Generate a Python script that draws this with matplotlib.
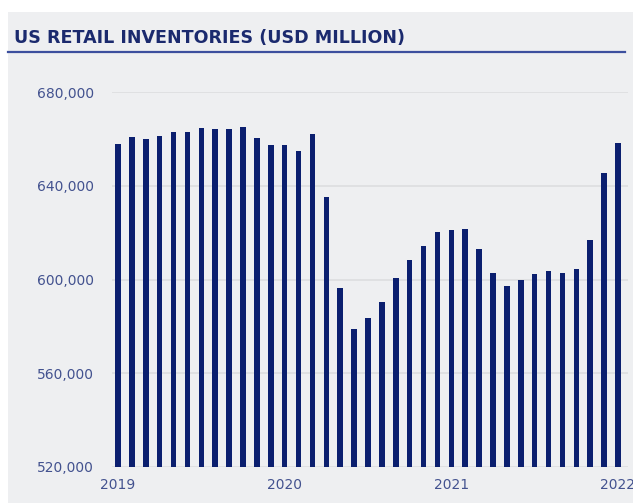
import matplotlib.pyplot as plt
from matplotlib.ticker import FuncFormatter

# monthly retail inventories, Jan 2019 .. Jan 2022 (USD million)
months = list(range(37))
inventories = [
    657800, 660800, 660000, 661200, 662900, 662900, 664600, 664200, 664200, 665100, 660400, 657400,
    657400, 654800, 662100, 635200, 596400, 578900, 583600, 590400, 600600, 608300, 614300, 620300,
    621100, 621600, 613000, 602800, 597200, 599800, 602400, 603600, 602800, 604500, 616900, 645400,
    658200,
]
year_pos = [0, 12, 24, 36]
year_labels = ["2019", "2020", "2021", "2022"]
y_ticks = [520000, 560000, 600000, 640000, 680000]

bg = "#eeeff1"
navy = "#0b1f6f"
label_col = "#43528f"

fig = plt.figure(figsize=(6.33, 5.03), dpi=100)
fig.patch.set_facecolor(bg)

# white strips along the top and left edges
fig.add_artist(plt.Rectangle((0, 1 - 12 / 503), 1, 12 / 503, transform=fig.transFigure,
                             facecolor="white", edgecolor="none"))
fig.add_artist(plt.Rectangle((0, 0), 8 / 633, 1, transform=fig.transFigure,
                             facecolor="white", edgecolor="none"))

fig.text(14 / 633, 1 - 38 / 503, "US RETAIL INVENTORIES (USD MILLION)", fontsize=12.6,
         fontweight="bold", color="#1b2a6e", va="center", ha="left")
fig.add_artist(plt.Line2D([8 / 633, 625 / 633], [1 - 52 / 503, 1 - 52 / 503],
                          transform=fig.transFigure, color="#3c4f9e", linewidth=1.6))

ax = fig.add_axes([112 / 633, 36 / 503, 516 / 633, 375 / 503])
ax.set_facecolor(bg)
ax.bar(months, inventories, width=0.4, color=navy, zorder=3)

ax.set_xlim(-0.43, 36.72)
ax.set_ylim(520000, 680000)
ax.set_yticks(y_ticks)
ax.yaxis.set_major_formatter(FuncFormatter(lambda v, p: f"{int(v):,}"))
ax.set_xticks(year_pos)
ax.set_xticklabels(year_labels)

ax.grid(axis="y", color="#dcdde0", linewidth=1.2, zorder=0)
for s in ax.spines.values():
    s.set_visible(False)
ax.tick_params(axis="both", length=0, labelsize=10, labelcolor=label_col)
ax.tick_params(axis="y", pad=13)
ax.tick_params(axis="x", pad=8)

fig.savefig("out.png", dpi=100, facecolor=fig.get_facecolor())
